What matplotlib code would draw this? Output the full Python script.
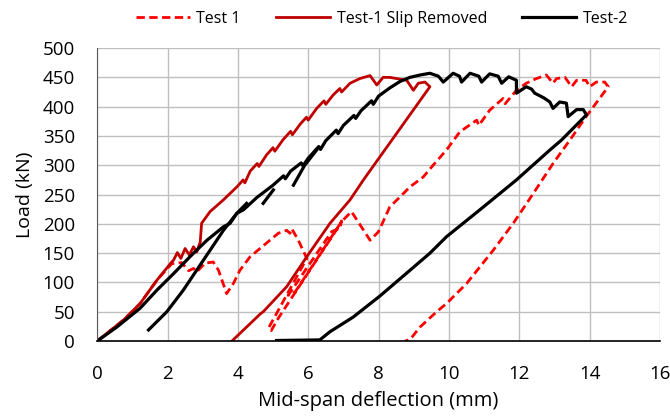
import matplotlib
matplotlib.use("Agg")
import matplotlib.pyplot as plt

plt.rcParams['font.family'] = ['Open Sans', 'DejaVu Sans']

# Test 1 (raw measurement, includes support slip)
test1_x = [0, 0.75, 1.22, 1.7, 2.12, 2.4, 2.6, 2.74, 2.83, 3.07, 3.3, 3.45, 3.68,
           3.87, 4.06, 4.35, 4.63, 4.91, 5.15, 5.39, 5.48, 5.53, 5.72, 5.96,
           4.87, 4.95, 5.15, 6.0, 6.86, 6.95, 6.9, 6.67, 5.43, 5.63, 6.95, 7.23,
           7.76, 7.99, 8.1, 8.32, 8.61, 8.89, 9.27, 9.55, 9.93, 10.31, 10.79,
           10.85, 11.16, 11.54, 11.6, 11.92, 12.2, 12.49, 12.77, 12.96, 13.06,
           13.3, 13.49, 13.63, 13.9, 14.0, 14.19, 14.43, 14.53, 13.9, 13.44,
           12.96, 12.4, 11.83, 11.26, 10.5, 9.93, 9.65, 9.18, 8.9, 8.75]
test1_y = [0, 36, 64, 104, 132, 134, 120, 124, 118, 133, 135, 121, 81,
           98, 121, 144, 158, 172, 184, 189, 184, 192, 172, 141,
           22, 18, 39, 117, 195, 205, 192, 187, 78, 84, 204, 221,
           172, 186, 200, 229, 246, 263, 280, 300, 326, 357, 377,
           368, 394, 414, 405, 428, 440, 448, 454, 440, 448,
           450, 434, 445, 445, 434, 442, 442, 434, 383, 343,
           303, 252, 201, 155, 98, 64, 50, 24, 3, 0]

# Test-1 with slip removed
slip_x = [0, 0.75, 1.22, 1.7, 2.12, 2.17, 2.28, 2.38, 2.5, 2.62, 2.74, 2.83, 2.93,
          2.97, 3.21, 3.59, 3.97, 4.15, 4.2, 4.35, 4.55, 4.6, 4.82, 5.0, 5.05,
          5.29, 5.5, 5.55, 5.77, 5.95, 6.0, 6.24, 6.45, 6.5, 6.71, 6.9, 6.95,
          7.19, 7.47, 7.76, 7.95, 8.13, 8.32, 8.8, 8.99, 9.13, 9.32, 9.46,
          7.57, 7.19, 6.62, 5.96, 5.39, 4.72, 4.65, 3.83]
slip_y = [0, 36, 64, 104, 135, 138, 151, 141, 158, 147, 161, 152, 169,
          201, 221, 241, 263, 275, 270, 290, 303, 298, 318, 330, 324,
          344, 358, 352, 370, 382, 377, 397, 410, 404, 420, 431, 425,
          440, 448, 453, 437, 450, 450, 445, 428, 440, 442, 434,
          275, 241, 201, 144, 93, 50, 47, 0]

# Test-2 envelope and final unloading
test2_x = [0, 0.56, 1.22, 1.7, 2.17, 2.64, 3.12, 3.59, 3.78, 3.97, 4.16, 4.54,
           5.0, 5.3, 5.35, 5.5, 5.8, 5.85, 6.0, 6.3, 6.35, 6.5, 6.8, 6.85,
           7.0, 7.3, 7.35, 7.5, 7.8, 7.85, 8.0, 8.32, 8.61, 8.89, 9.18,
           9.46, 9.7, 9.84, 10.12, 10.3, 10.36, 10.6, 10.85, 10.93, 11.16,
           11.4, 11.5, 11.7, 11.92, 11.92, 12.2, 12.35, 12.44, 12.7, 12.87,
           12.96, 13.15, 13.34, 13.39, 13.63, 13.82, 13.91,
           13.2, 12.87, 11.92, 10.88, 9.93, 9.46, 8.8, 8.04, 7.28, 6.62,
           6.33, 5.1]
test2_y = [0, 24, 56, 87, 115, 144, 172, 195, 201, 218, 224, 245,
           266, 282, 277, 290, 304, 299, 312, 332, 327, 342, 360, 354,
           368, 385, 380, 393, 410, 404, 418, 432, 443, 450, 454,
           457, 452, 442, 457, 452, 442, 457, 452, 442, 456,
           452, 440, 451, 445, 423, 434, 430, 423, 415, 408,
           397, 408, 406, 383, 395, 395, 386,
           343, 326, 275, 224, 178, 150, 116, 77, 41, 16,
           2, 1]

# Test-2 reloading branches
reload1_x = [1.46, 1.98, 2.45, 2.83, 3.21, 3.59, 3.97, 4.25]
reload1_y = [19, 50, 87, 121, 155, 189, 218, 235]
reload2_x = [4.72, 5.01]
reload2_y = [235, 258]
reload3_x = [5.58, 5.9, 6.24]
reload3_y = [266, 300, 326]

fig, ax = plt.subplots(figsize=(6.7, 4.18), dpi=100)
fig.subplots_adjust(left=0.145, right=0.985, bottom=0.184, top=0.885)

ax.plot(test1_x, test1_y, color='#FF0000', lw=2, ls=(0, (3, 1.6)), label='Test 1')
ax.plot(slip_x, slip_y, color='#C00000', lw=2, label='Test-1 Slip Removed')
ax.plot(test2_x, test2_y, color='black', lw=2.3, label='Test-2')
for xs, ys in [(reload1_x, reload1_y), (reload2_x, reload2_y), (reload3_x, reload3_y)]:
    ax.plot(xs, ys, color='black', lw=2.3)

ax.set_xlim(0, 16)
ax.set_ylim(0, 500)
ax.set_xticks(range(0, 17, 2))
ax.set_yticks(range(0, 501, 50))
ax.grid(True, color='#BFBFBF', lw=1)
ax.set_axisbelow(True)
for s in ['top', 'right']:
    ax.spines[s].set_visible(False)
ax.spines['left'].set_color('#595959')
ax.spines['bottom'].set_color('black')
ax.spines['bottom'].set_linewidth(1.2)
ax.tick_params(length=0, labelsize=13.5)
ax.tick_params(axis='x', pad=17)
ax.tick_params(axis='y', pad=16)
ax.set_xlabel('Mid-span deflection (mm)', fontsize=14.5, labelpad=6)
ax.set_ylabel('Load (kN)', fontsize=14, labelpad=6)

fig.legend(loc='center', bbox_to_anchor=(0.57, 0.955), ncol=3, frameon=False,
           fontsize=11.5, handlelength=3.4, columnspacing=2.2, handletextpad=0.4)

fig.savefig('out.png')
